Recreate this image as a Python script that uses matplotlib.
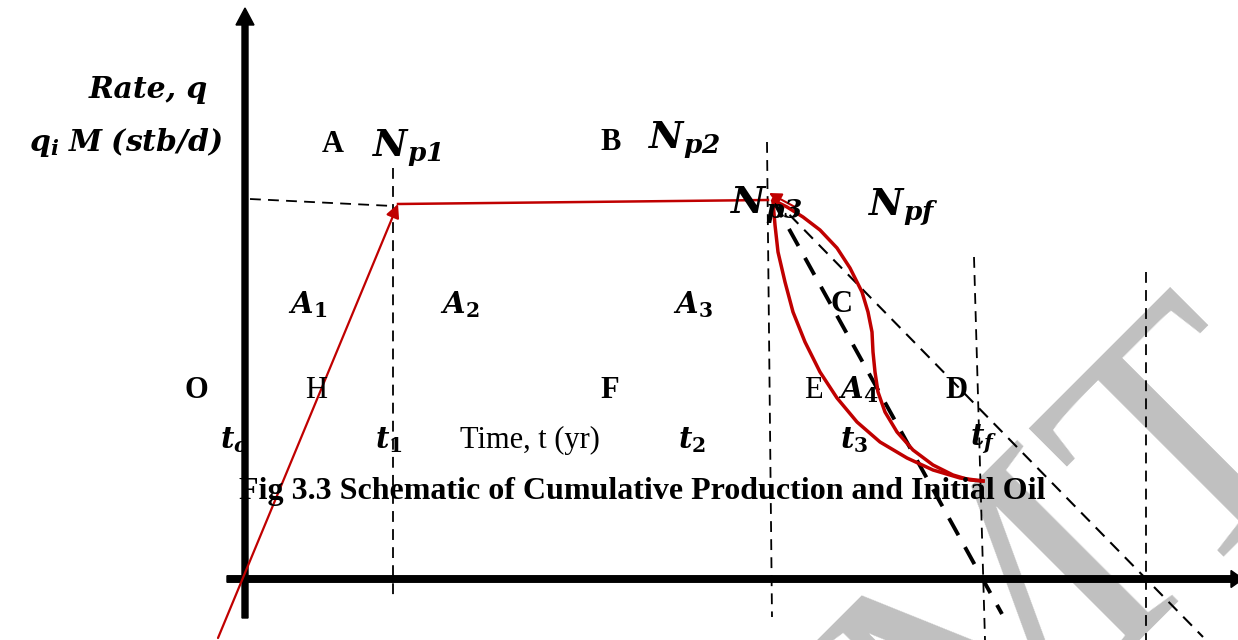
import numpy as np
import matplotlib
matplotlib.use("Agg")
import matplotlib.pyplot as plt

plt.rcParams["mathtext.fontset"] = "custom"
plt.rcParams["mathtext.rm"] = "DejaVu Serif"
plt.rcParams["mathtext.it"] = "DejaVu Serif:italic"
plt.rcParams["mathtext.bf"] = "DejaVu Serif:bold"
plt.rcParams["mathtext.bfit"] = "DejaVu Serif:italic:bold"

RED = "#c00000"
SERIF = "Liberation Serif"

# --- schematic coordinates (time units, rate units) ---
# build-up: straight ramp from below the origin to the plateau at t1
ramp_t = [-0.27, 1.53]
ramp_q = [-0.59, 3.75]

# plateau
plateau_t = [1.53, 5.23]
plateau_q = [3.75, 3.79]

# extrapolated rate line to the q axis
qi_t = [0.05, 1.48]
qi_q = [3.80, 3.73]

# decline curves after N_p3
outer_t = [5.28, 5.42, 5.58, 5.75, 5.92, 6.05, 6.17, 6.23, 6.27, 6.28, 6.30,
           6.33, 6.40, 6.52, 6.68, 6.88, 7.08, 7.25, 7.38]
outer_q = [3.79, 3.72, 3.62, 3.49, 3.31, 3.11, 2.87, 2.67, 2.47, 2.27, 2.07,
           1.87, 1.67, 1.47, 1.29, 1.14, 1.04, 0.99, 0.98]
inner_t = [5.28, 5.30, 5.33, 5.40, 5.48, 5.60, 5.75, 5.92, 6.12, 6.35, 6.62,
           6.88, 7.15, 7.38]
inner_q = [3.77, 3.54, 3.27, 2.97, 2.67, 2.37, 2.07, 1.81, 1.57, 1.37, 1.21,
           1.09, 1.01, 0.98]

# tangent lines from N_p3
steep_t = [5.28, 7.57]
steep_q = [3.79, -0.35]
shallow_t = [5.30, 9.58]
shallow_q = [3.79, -0.58]

# vertical guide lines: (t_top, q_top, t_bottom, q_bottom)
guides = [
    (1.48, 4.11, 1.48, -0.21),
    (5.22, 4.37, 5.27, -0.38),
    (7.29, 3.22, 7.40, -0.61),
    (9.01, 3.07, 9.01, -0.61),
]

fig = plt.figure(figsize=(12.38, 6.40), dpi=100)
ax = fig.add_axes([0, 0, 1, 1])
ax.set_xlim(-2.45, 9.93)
ax.set_ylim(-0.61, 5.79)
ax.axis("off")

# watermark
ax.text(7.20, -2.26, "MT", fontsize=250, family=SERIF, color="#c0c0c0",
        rotation=45, rotation_mode="anchor", ha="left", va="baseline", zorder=0)

# axes with arrows
ax.arrow(0, -0.39, 0, 6.10, width=0.06, head_width=0.18, head_length=0.17,
         length_includes_head=True, color="black", zorder=3)
ax.arrow(-0.18, 0, 10.16, 0, width=0.065, head_width=0.17, head_length=0.12,
         length_includes_head=True, color="black", zorder=3)

# guides
for x0, y0, x1, y1 in guides:
    ax.plot([x0, x1], [y0, y1], color="black", lw=1.3, ls=(0, (6, 4)), zorder=2)
ax.plot(qi_t, qi_q, color="black", lw=1.3, ls=(0, (6, 4)), zorder=2)
ax.plot(shallow_t, shallow_q, color="black", lw=1.5, ls=(0, (6, 4)), zorder=2)
ax.plot(steep_t, steep_q, color="black", lw=2.8, ls=(0, (5, 3.5)), zorder=2)

# rate profile
ax.annotate("", xy=(ramp_t[1], ramp_q[1]), xytext=(ramp_t[0], ramp_q[0]),
            arrowprops=dict(arrowstyle="-|>", color=RED, lw=1.6,
                            mutation_scale=20, shrinkA=0, shrinkB=0), zorder=4)
ax.plot(plateau_t, plateau_q, color=RED, lw=1.8, zorder=4)
ax.plot(outer_t, outer_q, color=RED, lw=2.5, zorder=4, solid_joinstyle="round")
ax.plot(inner_t, inner_q, color=RED, lw=2.5, zorder=4, solid_joinstyle="round")
ax.annotate("", xy=(5.24, 3.86), xytext=(5.50, 3.72),
            arrowprops=dict(arrowstyle="-|>", color=RED, lw=1.5,
                            mutation_scale=18, shrinkA=0, shrinkB=0), zorder=4)

# labels
bi = dict(family="DejaVu Serif", style="italic", weight="bold", color="black")
ax.text(-0.97, 4.89, "Rate, q", fontsize=21.5, ha="center", va="center", **bi)
ax.text(-1.19, 4.36, r"$\mathbfit{q}_{\mathbfit{i}}\ \mathbfit{M}\ \mathbfit{(stb/d)}$",
        fontsize=21.5, ha="center", va="center")

big = 27
ax.text(1.27, 4.31, r"$\mathbfit{N}_{\mathbfit{p1}}$", fontsize=big, ha="left", va="center", zorder=5)
ax.text(4.03, 4.39, r"$\mathbfit{N}_{\mathbfit{p2}}$", fontsize=big, ha="left", va="center", zorder=5)
ax.text(4.85, 3.74, r"$\mathbfit{N}_{\mathbfit{p3}}$", fontsize=big, ha="left", va="center", zorder=5)
ax.text(6.23, 3.72, r"$\mathbfit{N}_{\mathbfit{pf}}$", fontsize=big, ha="left", va="center", zorder=5)

mid = 21
for x, n in [(0.43, 1), (1.95, 2), (4.28, 3)]:
    ax.text(x, 2.74, r"$\mathbfit{A}_{\mathbf{%d}}$" % n, fontsize=mid, ha="left", va="center", zorder=5)
ax.text(5.93, 1.89, r"$\mathbfit{A}_{\mathbf{4}}$", fontsize=mid, ha="left", va="center", zorder=5)

for x, s in [(-0.25, "o"), (1.30, "1"), (4.33, "2"), (5.95, "3"), (7.25, "f")]:
    sub = r"\mathbfit{%s}" % s if s.isalpha() else r"\mathbf{%s}" % s
    ax.text(x, 1.39, r"$\mathbfit{t}_{%s}$" % sub, fontsize=mid, ha="left", va="center", zorder=5)

letters = [
    (0.88, 4.34, "A", "bold"), (3.66, 4.36, "B", "bold"), (5.97, 2.74, "C", "bold"),
    (-0.49, 1.89, "O", "bold"), (0.71, 1.89, "H", "normal"), (3.65, 1.89, "F", "bold"),
    (5.68, 1.89, "E", "normal"), (7.11, 1.89, "D", "bold"),
]
for x, y, s, w in letters:
    ax.text(x, y, s, fontsize=22, family=SERIF, weight=w, ha="center", va="center", zorder=5)

ax.text(2.15, 1.39, "Time, t (yr)", fontsize=22, family=SERIF, ha="left", va="center", zorder=5)
ax.text(3.97, 0.87, "Fig 3.3 Schematic of Cumulative Production and Initial Oil",
        fontsize=23, family=SERIF, weight="bold", ha="center", va="center", zorder=5)

fig.savefig("out.png", dpi=100)
